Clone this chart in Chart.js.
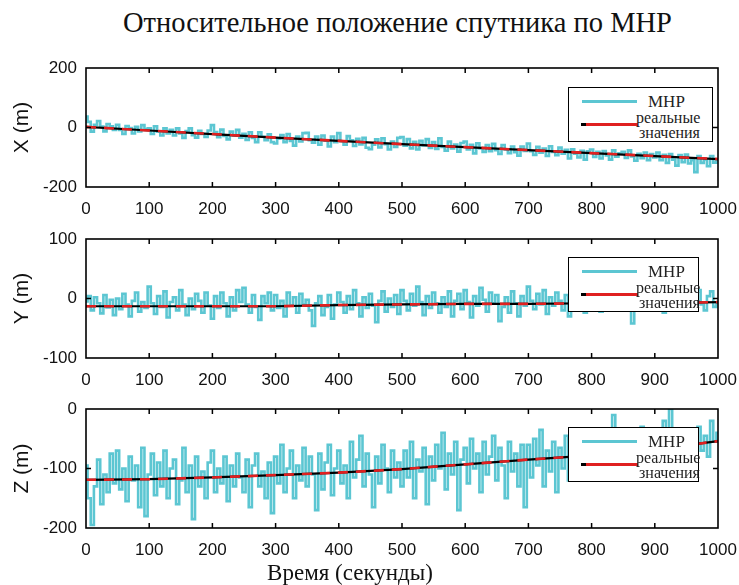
<!DOCTYPE html>
<html>
<head>
<meta charset="utf-8">
<script src="https://cdn.jsdelivr.net/npm/chart.js@4.4.1/dist/chart.umd.min.js"></script>
<style>
  html, body { margin: 0; padding: 0; background: #fff; }
  #wrap { position: relative; width: 739px; height: 585px; overflow: hidden; background: #fff; }
  canvas.pc { position: absolute; left: 0; }
  .title { position: absolute; left: 0; width: 795px; top: 7px; text-align: center;
           font-family: "Liberation Serif", "Times New Roman", serif; font-size: 28.5px; color: #111; white-space: nowrap; }
  .xtitle { position: absolute; left: 0; width: 700px; top: 560px; text-align: center;
           font-family: "Liberation Serif", "Times New Roman", serif; font-size: 23px; color: #111; white-space: nowrap; }
  .leg { position: absolute; left: 568px; border: 1.5px solid #000; background: #fff; box-sizing: border-box; height: 55px; }
  .leg .cy { position: absolute; height: 3px; background: #5cc6d2; }
  .leg .rd { position: absolute; height: 3px; background: #e02020; border-left: 5px solid #000; }
  .leg .t { position: absolute; font-family: "Liberation Serif", "Times New Roman", serif; color: #222; white-space: nowrap; line-height: 1; }
</style>
</head>
<body>
<div id="wrap">
  <div class="title">Относительное положение спутника по МНР</div>
  <canvas id="c1" class="pc" width="739" height="170" style="top:55px;width:739px;height:170px"></canvas>
  <canvas id="c2" class="pc" width="739" height="170" style="top:226px;width:739px;height:170px"></canvas>
  <canvas id="c3" class="pc" width="739" height="170" style="top:396px;width:739px;height:170px"></canvas>
  <div class="xtitle">Время (секунды)</div>
</div>
<script>
// ---- DATA ----
const SAMPLE_STEP = 5; // seconds between MHP samples (0..1000)
const realTimes = [0, 100, 200, 300, 400, 500, 600, 700, 800, 900, 1000];

const realX = [2, -10, -22, -34, -45, -56, -66, -76, -86, -96, -106];
const realY = [-13, -13, -13, -13, -11, -10, -9, -9, -8, -8, -6];
const realZ = [-119, -118, -115, -111, -107, -101, -93, -85, -78, -68, -54];

const mhpX = [
  37,19,-14,9,22,3,-13,12,4,-8,
  9,-8,-22,5,-2,-20,2,-13,8,-6,
  -3,-22,4,-14,-27,-3,-20,-8,-27,-3,
  -20,-35,-12,-3,-26,-34,-11,-22,-32,-10,
  8,-15,-33,-7,-28,-40,-14,-27,-8,-34,
  -21,-42,-16,-35,-49,-16,-31,-43,-23,-49,
  -54,-38,-25,-49,-22,-45,-61,-30,-47,-19,
  -18,-43,-51,-30,-58,-27,-44,-64,-30,-49,
  -19,-46,-58,-29,-43,-62,-38,-57,-35,-68,
  -73,-58,-40,-67,-36,-56,-74,-47,-65,-35,
  -32,-61,-39,-70,-48,-74,-45,-60,-39,-69,
  -49,-72,-36,-65,-78,-47,-70,-57,-81,-52,
  -47,-74,-58,-87,-53,-70,-82,-59,-80,-55,
  -76,-89,-59,-74,-86,-64,-83,-95,-64,-79,
  -54,-80,-92,-65,-85,-71,-96,-63,-82,-93,
  -67,-88,-75,-104,-73,-88,-101,-78,-108,-80,
  -74,-99,-82,-104,-79,-94,-108,-77,-98,-87,
  -82,-102,-77,-97,-112,-88,-103,-84,-110,-89,
  -101,-84,-110,-92,-119,-89,-108,-128,-93,-117,
  -91,-121,-110,-150,-96,-119,-107,-130,-96,-118,
  -110
];

const mhpY = [
  -5,4,-20,2,-8,-25,6,-15,-2,-28,
  0,-18,8,-10,-30,-4,10,-22,-6,-16,
  20,-8,-26,4,-14,12,-32,-6,2,-20,
  14,-10,-28,0,-18,8,-4,-24,10,-12,
  -34,4,-16,10,-8,-30,2,-20,14,-6,
  18,-10,-24,6,-14,-36,4,-8,10,-20,
  6,-16,-4,-30,10,-12,2,-24,8,-10,
  -2,-20,-46,-8,4,-28,-14,6,-34,-10,
  10,-6,-24,4,-18,14,-8,-30,2,-16,
  8,-12,-40,-4,12,-22,0,-14,6,-26,
  14,-4,-20,8,-12,20,-6,-28,4,-16,
  10,-8,-24,2,-14,12,-30,-4,8,-18,
  14,-6,-32,4,-12,18,-2,-22,10,-8,
  6,-38,-14,2,-24,12,-8,-30,4,-12,
  20,-4,-18,8,-10,14,-26,2,-12,10,
  -4,-20,6,-30,-8,10,-16,4,-24,0,
  12,-10,-2,-22,8,-6,16,-14,2,-18,
  10,-8,-4,-42,-12,6,-20,14,0,-10,
  8,-14,4,-24,-2,12,-16,6,-8,16,
  -4,10,-18,2,14,-10,-20,4,12,-14,
  -8
];

const mhpZ = [
  -95,-150,-195,-130,-85,-160,-110,-140,-75,-125,
  -70,-135,-100,-155,-80,-120,-95,-165,-65,-180,
  -110,-75,-145,-90,-130,-70,-150,-100,-85,-160,
  -120,-65,-140,-95,-185,-80,-130,-105,-150,-90,
  -70,-140,-100,-125,-80,-155,-95,-130,-75,-115,
  -140,-85,-165,-95,-75,-130,-105,-150,-90,-175,
  -80,-125,-60,-140,-100,-70,-150,-95,-120,-65,
  -130,-80,-110,-170,-75,-135,-90,-60,-145,-100,
  -70,-125,-95,-150,-55,-115,-85,-45,-130,-75,
  -110,-165,-80,-125,-60,-100,-140,-70,-115,-90,
  -130,-70,-115,-55,-150,-85,-105,-65,-160,-80,
  -120,-60,-100,-40,-135,-75,-110,-55,-170,-85,
  -65,-125,-50,-100,-75,-140,-55,-110,-80,-45,
  -120,-65,-95,-150,-55,-105,-75,-130,-60,-165,
  -60,-115,-50,-95,-35,-130,-70,-105,-55,-140,
  -65,-100,-45,-120,-70,-90,-40,-110,-60,-85,
  -55,-105,-70,-40,-95,-60,-115,-10,-65,-90,
  -50,-100,-40,-80,-120,-55,-30,-90,-60,-75,
  -45,-90,-60,-20,-85,0,-70,-40,-95,-55,
  -75,-35,-90,-50,-30,-70,-45,-80,-20,-55,
  -40
];

const panels = [
  { id: 'c1', label: 'X (m)', min: -200, max: 200, step: 200, mhp: mhpX, real: realX, legTop: 87, legW: 145 },
  { id: 'c2', label: 'Y (m)', min: -100, max: 100, step: 100, mhp: mhpY, real: realY, legTop: 257, legW: 131 },
  { id: 'c3', label: 'Z (m)', min: -200, max: 0, step: 100, mhp: mhpZ, real: realZ, legTop: 427, legW: 131 }
];

// ---- drawing ----
const CYAN = '#5cc6d2';
const RED = '#e02020';

const frameTicks = {
  id: 'frameTicks',
  afterDatasetsDraw(chart) {
    const { ctx, chartArea: a, scales } = chart;
    ctx.save();
    ctx.strokeStyle = '#000';
    ctx.lineWidth = 1.5;
    const L = 5;
    ctx.beginPath();
    scales.x.ticks.forEach(t => {
      const px = scales.x.getPixelForValue(t.value);
      if (Math.abs(px - a.left) < 2 || Math.abs(px - a.right) < 2) return;
      ctx.moveTo(px, a.bottom); ctx.lineTo(px, a.bottom - L);
      ctx.moveTo(px, a.top); ctx.lineTo(px, a.top + L);
    });
    scales.y.ticks.forEach(t => {
      const py = scales.y.getPixelForValue(t.value);
      if (Math.abs(py - a.top) < 2 || Math.abs(py - a.bottom) < 2) return;
      ctx.moveTo(a.left, py); ctx.lineTo(a.left + L, py);
      ctx.moveTo(a.right, py); ctx.lineTo(a.right - L, py);
    });
    ctx.stroke();
    ctx.lineWidth = 1.6;
    ctx.strokeRect(a.left, a.top, a.right - a.left, a.bottom - a.top);
    ctx.restore();
  }
};

const tickFont = { family: '"Liberation Sans", Arial, sans-serif', size: 17 };

panels.forEach(p => {
  const mhpPts = p.mhp.map((v, i) => ({ x: i * SAMPLE_STEP, y: v }));
  const realPtsBlack = p.real.map((v, i) => ({ x: realTimes[i], y: v }));
  const realPtsRed = p.real.map((v, i) => ({ x: realTimes[i], y: v }));
  new Chart(document.getElementById(p.id), {
    type: 'line',
    data: {
      datasets: [
        { data: mhpPts, order: 3, borderColor: CYAN, borderWidth: 2.6, pointRadius: 0, stepped: 'middle' },
        { data: realPtsBlack, order: 2, borderColor: '#000', borderWidth: 2.2, pointRadius: 0, tension: 0 },
        { data: realPtsRed, order: 1, borderColor: RED, borderWidth: 2.6, borderDash: [10, 8], pointRadius: 0, tension: 0 }
      ]
    },
    options: {
      responsive: false,
      animation: false,
      devicePixelRatio: 1,
      layout: { padding: { left: 0, right: 21, top: 13, bottom: 0 } },
      plugins: { legend: { display: false }, tooltip: { enabled: false } },
      scales: {
        x: {
          type: 'linear', min: 0, max: 1000,
          grid: { display: false, drawTicks: false },
          border: { display: false },
          ticks: { stepSize: 100, color: '#111', font: tickFont, padding: 12, maxRotation: 0,
                   callback: v => String(v) },
          afterFit(s) { s.height = 38; s.paddingLeft = 0; s.paddingRight = 0; }
        },
        y: {
          min: p.min, max: p.max,
          grid: { display: false, drawTicks: false },
          border: { display: false },
          ticks: { stepSize: p.step, color: '#111', font: tickFont, padding: 9,
                   callback: v => String(v) },
          title: { display: true, text: p.label, color: '#111', padding: { top: 10, bottom: 0 },
                   font: { family: '"Liberation Sans", Arial, sans-serif', size: 21 } },
          afterFit(s) { s.width = 86; s.paddingTop = 0; s.paddingBottom = 0; }
        }
      }
    },
    plugins: [frameTicks]
  });

  // legend overlay
  const leg = document.createElement('div');
  leg.className = 'leg';
  leg.style.top = p.legTop + 'px';
  leg.style.width = p.legW + 'px';
  leg.innerHTML =
    '<div class="cy" style="left:13px;top:12px;width:55px"></div>' +
    '<div class="t" style="left:79px;top:5px;font-size:17px">МНР</div>' +
    '<div class="rd" style="left:12px;top:35px;width:52px"></div>' +
    '<div class="t" style="left:67px;top:22px;font-size:16px">реальные</div>' +
    '<div class="t" style="left:70px;top:37px;font-size:16px">значения</div>';
  document.getElementById('wrap').appendChild(leg);
});
</script>
</body>
</html>
